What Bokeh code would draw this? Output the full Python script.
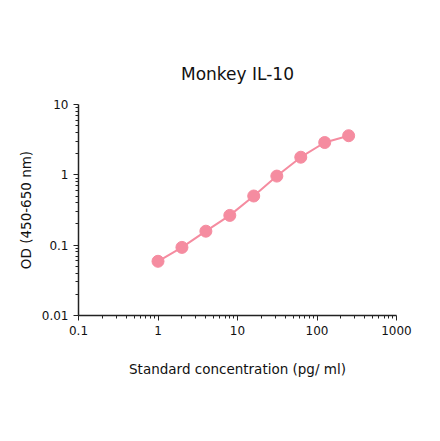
import numpy as np
from bokeh.plotting import figure
from bokeh.models import FixedTicker, CustomJSTickFormatter
from bokeh.embed import file_html
from bokeh.resources import INLINE

# standard curve
conc = [1, 2, 4, 8, 16, 31.25, 62.5, 125, 250]
od = [0.059, 0.093, 0.158, 0.265, 0.50, 0.96, 1.78, 2.88, 3.6]

x_ticks = [0.1, 1, 10, 100, 1000]
y_ticks = [0.01, 0.1, 1, 10]

pink = "#f58ca0"
font = "DejaVu Sans"


def minors(majors):
    # 2..9 between each decade
    return [m * k for m in majors[:-1] for k in range(2, 10)]


p = figure(width=424, height=425, x_axis_type="log", y_axis_type="log",
           x_range=(0.1, 1000), y_range=(0.01, 10),
           title="Monkey IL-10", toolbar_location=None, output_backend="svg",
           min_border_left=78, min_border_right=28, min_border_top=104, min_border_bottom=110)

p.line(conc, od, line_color=pink, line_width=2)
p.scatter(conc, od, size=12, fill_color=pink, line_color=pink)

# title
p.title.align = "center"
p.title.text_font = font
p.title.text_font_size = "17px"
p.title.text_font_style = "normal"
p.title.text_color = "#111111"
p.title.standoff = 41

p.outline_line_color = None
p.xgrid.grid_line_color = None
p.ygrid.grid_line_color = None

fmt = "return Number(tick.toPrecision(3)).toString();"
p.xaxis[0].ticker = FixedTicker(ticks=x_ticks, minor_ticks=minors(x_ticks))
p.yaxis[0].ticker = FixedTicker(ticks=y_ticks, minor_ticks=minors(y_ticks))
for ax in (p.xaxis[0], p.yaxis[0]):
    ax.formatter = CustomJSTickFormatter(code=fmt)
    ax.axis_line_color = "#222222"
    ax.axis_line_width = 1.5
    ax.major_tick_line_color = "#222222"
    ax.minor_tick_line_color = "#222222"
    ax.major_tick_in = 0
    ax.major_tick_out = 5
    ax.minor_tick_in = 0
    ax.minor_tick_out = 3
    ax.major_label_text_font = font
    ax.major_label_text_font_size = "12px"
    ax.major_label_text_color = "#111111"
    ax.axis_label_text_font = font
    ax.axis_label_text_font_size = "13.5px"
    ax.axis_label_text_font_style = "normal"
    ax.axis_label_text_color = "#111111"

p.xaxis.axis_label = "Standard concentration (pg/ ml)"
p.xaxis.axis_label_standoff = 23
p.yaxis.axis_label = "OD (450-650 nm)"
p.yaxis.axis_label_standoff = 5

open("out.html", "w").write(file_html(p, INLINE))
